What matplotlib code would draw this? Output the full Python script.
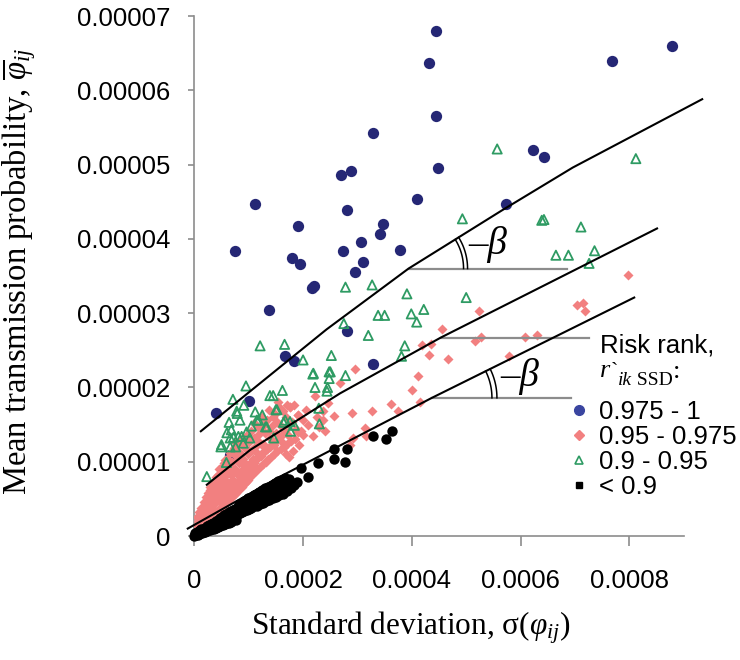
import numpy as np
import matplotlib
matplotlib.use("Agg")
import matplotlib.pyplot as plt
from matplotlib.lines import Line2D

# all values below are in units of 1e-6
U = 1e-6

# risk rank 0.975 - 1
blue_x = [445, 431, 878, 768, 445, 329, 622, 644, 449, 269, 289, 409, 111, 573, 280, 190, 347, 341, 307, 74,
          273, 378, 179, 195, 310, 296, 216, 221, 138, 280, 167, 183, 329, 40, 100, 66, 60]
blue_y = [68.0, 63.7, 65.9, 64.0, 56.6, 54.2, 52.0, 51.0, 49.6, 48.6, 49.1, 45.3, 44.7, 44.7, 43.9, 41.7, 42.0, 40.7, 39.6, 38.3,
          38.3, 38.5, 37.4, 36.6, 36.9, 35.5, 33.4, 33.7, 30.4, 27.6, 24.2, 23.5, 23.1, 16.6, 18.2, 10.9, 9.2]

# risk rank 0.95 - 0.975
pink_x = [4, 6, 8, 10, 12, 14, 16, 18, 20, 22, 24, 25, 27, 28, 30, 31, 33, 34, 36, 37,
          39, 40, 42, 43, 45, 46, 48, 50, 51, 53, 55, 56, 58, 60, 61, 63, 65, 66, 68, 70,
          72, 73, 75, 77, 79, 80, 82, 84, 86, 88, 90, 92, 94, 96, 98, 100, 102, 104, 106, 108,
          110, 113, 115, 117, 120, 122, 125, 127, 130, 133, 135, 138, 140, 143, 146, 148, 151, 154, 157, 160,
          163, 166, 170, 173, 176, 180, 185, 191, 196, 205,
          3, 5, 7, 9, 11, 13, 15, 17, 19, 21, 23, 26, 29, 32, 35, 38, 41, 44, 47, 49,
          52, 54, 57, 59, 62, 64, 67, 69, 71, 74, 76, 78, 81, 83, 85, 87, 89, 91, 93, 95,
          97, 99, 101, 103, 105, 107, 109, 111, 114, 116, 118, 121, 123, 126, 128, 131, 134, 136, 139, 141,
          144, 147, 150, 153, 156, 159, 162, 165, 168, 171, 174, 178, 182, 187, 193, 200, 210, 218, 226, 240,
          5, 9, 13, 17, 21, 26, 29, 33, 38, 41, 44, 47, 52, 54, 57, 62, 64, 67, 71, 74,
          78, 81, 85, 89, 93, 97, 101, 105, 109, 112, 118, 124, 129, 137, 145, 152, 158, 168, 175, 183,
          190, 200,
          797, 703, 715, 718, 523, 455, 436, 418, 527, 516, 608, 631, 432, 466, 578, 296, 411, 400, 361, 415,
          290, 256, 222, 314, 286, 315, 236, 327, 375, 268, 292, 237, 176, 191, 245, 230]
pink_y = [1.2, 2.0, 1.6, 2.6, 1.9, 3.0, 2.4, 3.6, 2.8, 4.2, 3.4, 5.0, 4.1, 6.2, 3.8, 5.4, 4.6, 7.0, 5.8, 4.4,
          6.5, 8.0, 5.2, 7.2, 6.0, 9.0, 7.8, 5.6, 8.6, 6.8, 9.8, 7.6, 6.2, 8.8, 10.4, 7.2, 9.4, 11.2, 8.2, 10.0,
          7.6, 11.8, 9.0, 10.8, 8.4, 12.4, 9.8, 11.2, 8.8, 13.0, 10.4, 12.0, 9.4, 13.6, 11.0, 12.6, 9.8, 14.2, 11.6, 10.4,
          13.2, 15.0, 11.2, 12.8, 14.4, 10.8, 16.0, 12.4, 13.8, 15.6, 11.8, 17.0, 13.2, 14.8, 12.2, 16.4, 13.8, 18.0, 15.0, 12.8,
          16.8, 14.2, 17.6, 13.6, 17.4, 15.4, 13.0, 16.3, 14.2, 17.0,
          0.6, 1.5, 1.0, 2.0, 1.4, 2.4, 1.7, 2.9, 2.0, 3.3, 2.4, 3.6, 2.7, 4.0, 3.0, 4.5, 3.4, 5.0, 3.8, 4.4,
          5.2, 4.2, 5.4, 4.5, 5.8, 4.8, 6.3, 5.2, 6.6, 5.6, 7.0, 5.9, 7.4, 6.3, 7.7, 6.6, 8.1, 7.0, 8.4, 7.3,
          8.8, 7.6, 9.1, 8.0, 9.5, 8.3, 9.8, 8.6, 10.2, 9.0, 10.6, 9.3, 11.0, 9.7, 11.3, 10.0, 11.7, 10.4, 12.0, 10.7,
          12.4, 11.0, 12.8, 11.4, 13.2, 11.7, 13.6, 12.0, 11.0, 12.4, 10.6, 12.8, 11.4, 14.4, 12.2, 13.6, 15.0, 13.4, 16.0, 14.2,
          2.6, 3.2, 3.8, 4.6, 5.2, 5.8, 6.6, 6.0, 7.4, 6.9, 8.2, 6.4, 9.4, 7.9, 10.2, 9.0, 6.9, 10.0, 8.6, 12.6,
          11.4, 10.2, 12.6, 10.0, 13.2, 9.6, 11.4, 13.0, 15.2, 12.0, 13.6, 12.2, 15.0, 14.2, 16.0, 15.4, 17.2, 16.0, 15.0, 17.6,
          14.0, 15.6,
          35.1, 31.1, 31.4, 30.3, 30.3, 27.8, 25.9, 25.7, 26.8, 26.2, 26.8, 27.0, 24.3, 23.8, 24.2, 22.5, 21.6, 19.7, 17.8, 18.1,
          16.5, 16.1, 18.9, 14.6, 12.2, 13.5, 16.8, 16.8, 16.8, 20.6, 13.2, 15.6, 17.4, 16.3, 17.9, 14.7]

# risk rank 0.9 - 0.95
green_x = [557, 812, 493, 639, 643, 711, 736, 665, 688, 726,
           278, 327, 391, 500, 422, 338, 350, 399, 409, 275,
           320, 121, 166, 387, 381, 252, 200, 218, 248, 278,
           248, 245, 222, 95, 162, 139, 145, 71, 91, 150,
           229, 112, 79, 125, 115, 64, 164, 230, 184, 105,
           131, 68, 177, 81, 72, 66, 102, 146, 49, 66,
           76, 59, 23, 78, 84, 118, 133, 87, 50, 90,
           152, 219, 250, 244, 176, 167, 60, 96]
green_y = [52.1, 50.8, 42.7, 42.5, 42.6, 41.6, 38.4, 37.8, 37.8, 36.7,
           33.5, 33.8, 32.6, 32.1, 30.5, 29.7, 29.7, 29.9, 28.8, 28.6,
           27.0, 25.6, 25.8, 25.6, 24.2, 24.3, 23.7, 21.8, 22.1, 21.6,
           21.2, 20.0, 20.0, 20.2, 19.6, 18.9, 18.9, 18.4, 17.6, 17.0,
           17.2, 16.7, 16.5, 16.3, 15.6, 15.3, 15.3, 15.1, 14.9, 14.8,
           14.7, 14.3, 14.1, 13.4, 13.3, 13.2, 13.2, 13.2, 12.0, 12.0,
           12.0, 9.9, 8.0, 16.8, 15.6, 15.6, 14.7, 13.4, 12.3, 12.5,
           17.0, 21.9, 22.1, 19.5, 15.4, 15.6, 13.9, 14.0]

# risk rank < 0.9
black_x = [0, 1, 2, 3, 4, 5, 6, 7, 8, 9, 10, 11, 12, 13, 14, 15, 16, 17, 18, 19,
           20, 22, 23, 24, 26, 27, 28, 30, 31, 32, 34, 35, 36, 38, 39, 40, 42, 43, 44, 46,
           47, 48, 50, 51, 52, 54, 55, 56, 58, 59, 60, 62, 63, 64, 66, 67, 68, 70, 71, 72,
           74, 75, 76, 78, 79,
           80, 82, 83, 84, 86, 87, 88, 90, 91, 92, 94, 95, 96, 98, 99, 100, 102, 104, 105, 107,
           109, 110, 112, 114, 115, 117, 119, 120, 122, 124, 126, 128, 130, 132, 134, 136, 138, 140, 142, 144,
           146, 148, 150, 152, 154, 156, 158, 160, 163, 165, 167, 170, 172, 175, 178, 180, 184, 188,
           197, 209, 228, 257, 257, 277, 280, 329, 352, 363]
black_y = [0.0, 0.2, 0.4, 0.1, 0.3, 0.5, 0.2, 0.6, 0.3, 0.7, 0.4, 0.8, 0.5, 0.9, 0.4, 0.7, 1.0, 0.5, 0.8, 1.1,
           0.6, 0.9, 1.3, 0.7, 1.0, 1.5, 0.8, 1.1, 1.6, 0.9, 1.2, 1.8, 1.0, 1.4, 2.0, 1.1, 1.5, 2.2, 1.2, 1.6,
           2.4, 1.3, 1.8, 2.6, 1.5, 2.0, 2.8, 1.6, 2.1, 3.0, 1.7, 2.3, 3.2, 1.8, 2.4, 3.3, 1.9, 2.6, 3.5, 2.1,
           2.8, 3.7, 2.2, 2.9, 3.8,
           3.0, 3.5, 4.3, 3.1, 3.7, 4.5, 3.2, 3.9, 4.7, 3.4, 4.0, 4.9, 3.5, 4.2, 5.1, 3.6, 4.4, 5.3, 3.8, 4.6,
           5.5, 4.0, 4.8, 5.7, 4.1, 5.0, 5.9, 4.3, 5.1, 6.2, 4.5, 5.3, 6.4, 4.7, 5.5, 6.6, 4.9, 5.7, 6.9, 5.1,
           6.0, 7.1, 5.3, 6.2, 7.4, 5.5, 6.4, 7.6, 5.7, 6.7, 7.8, 6.0, 6.9, 7.7, 6.4, 7.2, 6.8, 7.3,
           9.2, 7.9, 9.8, 11.7, 10.3, 10.0, 11.7, 13.4, 13.1, 14.1]

# fitted curves and the horizontal reference lines
upper_x = [12, 243, 394, 565, 696, 934]
upper_y = [14.1, 27.8, 36.0, 43.8, 49.6, 58.8]
middle_x = [23, 103, 268, 453, 851]
middle_y = [6.9, 11.6, 19.2, 26.7, 41.4]
lower_x = [-12, 158, 437, 809]
lower_y = [1.0, 8.0, 18.6, 32.1]
ref_x0 = [394, 453, 437]
ref_x1 = [685, 726, 693]
ref_y = [36.0, 26.7, 18.6]

xticks = [0, 0.0002, 0.0004, 0.0006, 0.0008]
xtick_labels = ["0", "0.0002", "0.0004", "0.0006", "0.0008"]
yticks = [0, 0.00001, 0.00002, 0.00003, 0.00004, 0.00005, 0.00006, 0.00007]
ytick_labels = ["0", "0.00001", "0.00002", "0.00003", "0.00004", "0.00005", "0.00006", "0.00007"]
legend_labels = ["0.975 - 1", "0.95 - 0.975", "0.9 - 0.95", "< 0.9"]

plt.rcParams["font.family"] = ["Liberation Sans", "DejaVu Sans"]
plt.rcParams["mathtext.fontset"] = "custom"
plt.rcParams["mathtext.rm"] = "Liberation Serif"
plt.rcParams["mathtext.it"] = "Liberation Serif:italic"

BLUE = "#252775"
PINK = "#f28080"
GREEN = "#2e9b63"
GREY = "#8c8c8c"

W, H = 740, 660
fig = plt.figure(figsize=(W / 100, H / 100), dpi=100)
ax = fig.add_axes([194.3 / W, 124 / H, 489.4 / W, 520 / H])

a = np.array
ax.scatter(a(blue_x) * U, a(blue_y) * U, s=66, marker="o", color=BLUE, lw=0, zorder=2)
ax.scatter(a(pink_x) * U, a(pink_y) * U, s=26, marker="D", color=PINK, lw=0, zorder=3)
ax.scatter(a(green_x) * U, a(green_y) * U, s=44, marker="^", facecolor="none",
           edgecolor=GREEN, lw=1.3, zorder=4)
ax.scatter(a(black_x) * U, a(black_y) * U, s=56, marker="o", color="k", lw=0,
           zorder=5, clip_on=False)

for cx, cy in [(upper_x, upper_y), (middle_x, middle_y), (lower_x, lower_y)]:
    ax.plot(a(cx) * U, a(cy) * U, color="k", lw=1.5, zorder=7, clip_on=False)
for x0, x1, y in zip(ref_x0, ref_x1, ref_y):
    ax.plot([x0 * U, x1 * U], [y * U, y * U], color=GREY, lw=1.6, zorder=6)

ax.set_xlim(0, 0.0009)
ax.set_ylim(0, 0.00007)
ax.set_xticks(xticks)
ax.set_xticklabels(xtick_labels)
ax.set_yticks(yticks)
ax.set_yticklabels(ytick_labels)
for s in ["top", "right"]:
    ax.spines[s].set_visible(False)
for s in ["left", "bottom"]:
    ax.spines[s].set_color(GREY)
    ax.spines[s].set_linewidth(1.2)
ax.tick_params(axis="x", length=7, width=1.2, color=GREY, pad=17, labelsize=18.5)
ax.tick_params(axis="y", length=4, width=1.2, color=GREY, pad=13, labelsize=18.5)

ax.set_xlabel(r"Standard deviation, σ($\varphi_{ij}$)", fontfamily="Liberation Serif", fontsize=22.5)
ax.xaxis.set_label_coords(0.443, -0.142)
ax.set_ylabel(r"Mean transmission probability, $\overline{\varphi}_{ij}$",
              fontfamily="Liberation Serif", fontsize=23.5)
ax.yaxis.set_label_coords(-0.32, 0.51)

# angle marks between a curve and its horizontal reference line
def angle_mark(cx, cy, x0, y0, radii, dx, dy):
    p0 = ax.transData.transform((x0 * U, y0 * U))
    y1 = np.interp(x0 + 100, cx, cy)
    p1 = ax.transData.transform(((x0 + 100) * U, y1 * U))
    ang = np.arctan2(p1[1] - p0[1], p1[0] - p0[0])
    t = np.linspace(0, ang, 40)
    inv = ax.transData.inverted()
    for r in radii:
        pts = inv.transform(np.column_stack([p0[0] + r * np.cos(t), p0[1] + r * np.sin(t)]))
        ax.plot(pts[:, 0], pts[:, 1], color="k", lw=1.1, zorder=8)
    ax.annotate("\u2013\u03b2", xy=(x0 * U, y0 * U), xytext=(dx, dy), textcoords="offset points",
                ha="left", va="baseline", fontfamily="Liberation Serif", fontstyle="italic",
                fontsize=28, zorder=9)

angle_mark(upper_x, upper_y, ref_x0[0], ref_y[0], [55, 59], 42.7, 10.3)
angle_mark(lower_x, lower_y, ref_x0[2], ref_y[2], [60, 65], 49, 8.6)

# legend
handles = [
    Line2D([], [], ls="", marker="o", ms=7, color="#3a45a0"),
    Line2D([], [], ls="", marker="D", ms=4.6, color=PINK),
    Line2D([], [], ls="", marker="^", ms=6, mfc="none", mec=GREEN, mew=1.2),
    Line2D([], [], ls="", marker="s", ms=5, color="k"),
]
ax.legend(handles, legend_labels, loc="upper left", bbox_to_anchor=(568.7 / W, 1 - 399.6 / H),
          bbox_transform=fig.transFigure, frameon=False, fontsize=18.5, handlelength=0.8,
          handletextpad=0.38, labelspacing=0.05, borderpad=0, borderaxespad=0)

fig.text(600 / W, 1 - 352 / H, "Risk rank,", fontsize=18.5, va="baseline", ha="left")
t = fig.text(600 / W, 1 - 377 / H, "r", fontfamily="Liberation Serif", fontstyle="italic",
             fontsize=19, va="baseline", ha="left")
t = ax.annotate("`", xy=(1, 0), xycoords=t, xytext=(0.5, 0), textcoords="offset points",
                fontfamily="Liberation Serif", fontsize=16, va="bottom", ha="left")
t = ax.annotate("ik", xy=(1, 0), xycoords=t, xytext=(0, -5), textcoords="offset points",
                fontfamily="Liberation Serif", fontstyle="italic", fontsize=14, va="bottom", ha="left")
t = ax.annotate(" SSD", xy=(1, 0), xycoords=t, xytext=(0, 0), textcoords="offset points",
                fontfamily="Liberation Serif", fontsize=14, va="bottom", ha="left")
ax.annotate(":", xy=(1, 0), xycoords=t, xytext=(0, 4), textcoords="offset points",
            fontfamily="Liberation Serif", fontsize=19, va="bottom", ha="left")

fig.savefig("out.png", dpi=100)
